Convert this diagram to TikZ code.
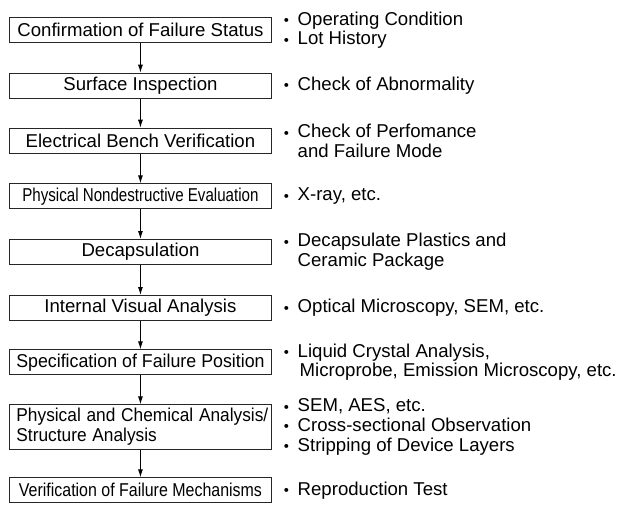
\documentclass[tikz,border=0pt]{standalone}
\usepackage{fontspec}
\setmainfont{Liberation Sans}
\newfontfamily\cjk{Noto Sans CJK JP}
\usetikzlibrary{arrows.meta}
\newcommand{\bul}{\raisebox{-2.5pt}{\cjk ・}\hspace{1.5pt}}
\newcommand{\ind}{\hspace{20.1pt}}
\newcommand{\hsc}[2]{\scalebox{#1}[1]{#2}}
\begin{document}
\begin{tikzpicture}[x=1pt,y=-1pt,
  every node/.style={font=\fontsize{18.6}{19.6}\selectfont, inner sep=0pt},
  stepbox/.style={draw=black!85, line width=0.9pt, minimum width=262pt, minimum height=25pt, anchor=north west},
  note/.style={anchor=west, align=left},
  arr/.style={draw=black, line width=0.9pt, -{Latex[length=8pt,width=5pt]}}]
\useasboundingbox (0,0) rectangle (621,504);
\node[stepbox] (b1) at (9,17.3) {Confirmation of Failure Status};
\node[stepbox] (b2) at (9,72.7) {Surface Inspection};
\node[stepbox] (b3) at (9,127.7) {Electrical Bench Verification};
\node[stepbox] (b4) at (9,183.3) {\hsc{0.813}{Physical Nondestructive Evaluation}};
\node[stepbox] (b5) at (9,239) {Decapsulation};
\node[stepbox] (b6) at (9,295) {Internal Visual Analysis};
\node[stepbox] (b7) at (9,349.3) {\hsc{0.957}{Specification of Failure Position}};
\node[stepbox, minimum height=44.3pt, align=left, text width=248pt, inner xsep=7pt] (b8) at (9,404.3)
  {\hsc{0.93}{Physical and Chemical Analysis/}\\\hsc{0.93}{Structure Analysis}};
\node[stepbox] (b9) at (9,477.3) {\hsc{0.858}{Verification of Failure Mechanisms}};
\foreach \a/\b in {b1/b2,b2/b3,b3/b4,b4/b5,b5/b6,b6/b7,b7/b8,b8/b9}
  \draw[arr] (\a) -- (\b);
\node[note] (n1) at ([xshift=5.5pt]b1.east) {\bul Operating Condition\\\bul Lot History};
\node[note] (n2) at ([xshift=5.5pt]b2.east) {\bul Check of Abnormality};
\node[note] (n3) at ([xshift=5.5pt]b3.east) {\bul Check of Perfomance\\\ind and Failure Mode};
\node[note] (n4) at ([xshift=5.5pt]b4.east) {\bul X-ray, etc.};
\node[note] (n5) at ([xshift=5.5pt]b5.east) {\bul Decapsulate Plastics and\\\ind Ceramic Package};
\node[note] (n6) at ([xshift=5.5pt]b6.east) {\bul Optical Microscopy, SEM, etc.};
\node[note] (n7) at ([xshift=5.5pt]b7.east) {\bul Liquid Crystal Analysis,\\\ind\hspace{2pt}Microprobe, Emission Microscopy, etc.};
\node[note] (n8) at ([xshift=5.5pt]b8.east) {\bul SEM, AES, etc.\\\bul Cross-sectional Observation\\\bul Stripping of Device Layers};
\node[note] (n9) at ([xshift=5.5pt]b9.east) {\bul Reproduction Test};
\end{tikzpicture}
\end{document}
